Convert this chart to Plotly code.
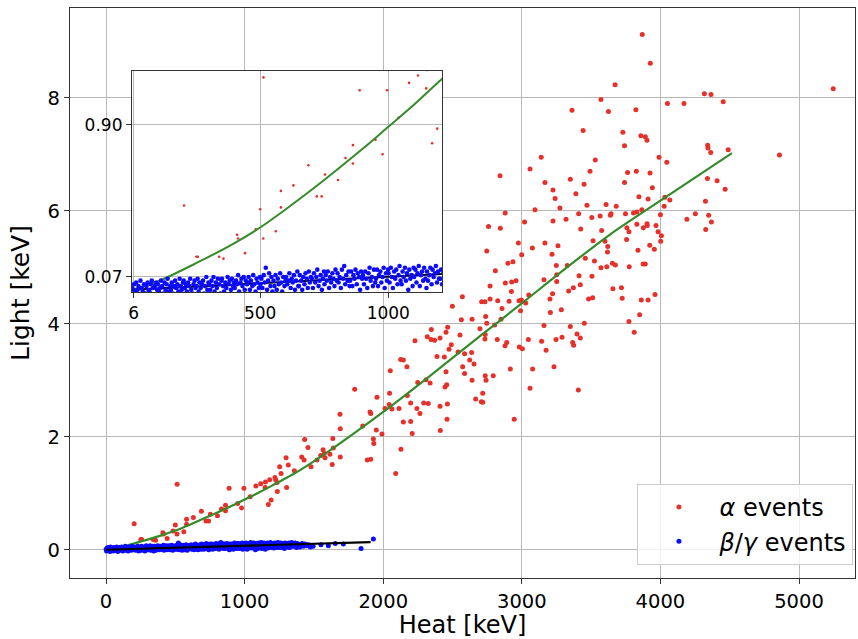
import plotly.graph_objects as go

# ---------------- data ----------------
alpha_heat = [
    203, 251, 257, 340, 357, 410, 414, 441, 483, 500,
    512, 513, 561, 581, 581, 630, 688, 721, 740, 753,
    804, 833, 862, 862, 888, 950, 978, 995, 1040, 1081,
    1116, 1148, 1150, 1171, 1191, 1181,
    1219, 1224, 1234, 1236, 1253, 1263, 1299, 1315, 1303, 1359,
    1412, 1429, 1457, 1479, 1433, 1522, 1566, 1580, 1575, 1549,
    1640, 1616, 1690, 1632, 1885, 1910, 1636, 1688, 1690, 1794,
    1852, 1905, 1910, 1929, 1932, 1950, 1955, 1991, 2013, 2046,
    2043, 2051, 2063, 2090, 2114, 2126, 2145, 2128, 2145, 2171,
    2174, 2198, 2198, 2209, 2229, 2243, 2249, 2265, 2292, 2309,
    2318, 2325, 2338, 2345, 2347, 2371, 2388, 2410, 2410, 2412,
    2441, 2446, 2453, 2453, 2458, 2460, 2463, 2465, 2475, 2491,
    2499, 2540, 2554, 2564, 2571, 2573, 2587, 2587, 2624, 2638,
    2641, 2641, 2655, 2667, 2698,
    2845, 2747, 2975, 2999, 3076, 3167, 3261, 3425, 3514, 3218,
    3249, 3328, 3458, 3524, 2900, 2936, 2809, 2881, 2927, 2958,
    2771, 2925, 3160, 3252, 3252, 3372, 3422, 3338, 3413, 3506,
    3222, 2710, 2734, 2771, 2826, 2908, 2980, 2997, 3050, 3028,
    2857, 2991, 3203, 3285, 3482, 3511, 3206, 2739, 2747, 2850,
    2804, 3160, 3350, 3451, 2736, 2734, 2823, 2891, 2879, 2982,
    3004, 3047, 3143, 3175, 3247, 3290, 3367, 3374, 3398, 3422,
    2917, 3078, 3232, 2736, 2742, 2794, 3059, 3408, 2718, 2708,
    2718, 2945,
    2843, 3059, 3140, 3167, 3225, 3240, 3275, 3095, 3350, 3390,
    3449, 3492, 3470, 3319, 3225, 2880, 2760, 3362, 3442, 3530,
    3505, 3410, 3020,
    3608, 3681, 3565, 3639, 3644, 3748, 3806, 3830, 3866, 4027,
    4000, 4325, 4252, 4191, 4348, 4368, 4327, 3576, 3758, 3773,
    3756, 3830, 3877, 3903, 3905, 3968, 3983, 4007, 4002, 3600,
    3620, 3618, 3838, 3923, 3956, 3571, 3613, 3654, 3675, 3775,
    3875, 3891, 3657, 3719, 3724, 3862, 3911, 3961, 3850, 3773,
    3811,
    3869, 3927, 3673, 3571, 3625, 3823, 4317, 4365, 4051, 4170,
    4453, 5247, 3729, 3741, 3859, 3891, 3903, 3990, 4046, 4341,
    4343, 4363, 4489, 4859, 3763, 3826, 3925, 3741, 3942, 3845,
    3911, 4339, 4409, 4467, 4068, 4032,
]
alpha_light = [
    0.46, 0.18, 0.18, 0.18, 0.17, 0.30, 0.28, 0.20, 0.33, 0.44,
    0.28, 1.16, 0.32, 0.54, 0.45, 0.57, 0.68, 0.51, 0.51, 0.63,
    0.60, 0.72, 0.79, 0.69, 1.09, 0.82, 0.74, 1.09, 0.94, 1.13,
    1.17, 1.10, 1.20, 0.80, 0.88, 1.24,
    1.28, 1.24, 1.19, 1.03, 1.47, 1.35, 1.63, 1.50, 1.10, 1.40,
    1.64, 1.59, 1.81, 1.47, 1.95, 1.59, 1.77, 1.63, 1.71, 1.67,
    1.80, 1.69, 1.64, 1.51, 1.59, 1.60, 1.97, 2.40, 2.14, 2.84,
    2.19, 2.44, 2.41, 1.96, 1.88, 2.12, 2.70, 2.05, 2.50, 2.77,
    2.57, 3.17, 2.49, 1.35, 2.50, 3.37, 3.36, 1.78, 2.26, 3.24,
    2.73, 2.60, 2.27, 2.06, 3.70, 2.50, 2.96, 2.41, 2.60, 3.01,
    3.77, 2.59, 2.95, 3.72, 3.90, 3.71, 3.42, 3.75, 2.54, 2.11,
    3.41, 2.88, 3.85, 3.15, 2.92, 2.31, 2.58, 3.94, 3.55, 3.63,
    4.31, 3.50, 3.80, 4.07, 4.48, 3.24, 3.47, 3.12, 3.36, 3.49,
    4.08, 3.00, 3.29, 2.67, 3.91,
    5.69, 5.29, 5.43, 5.22, 5.34, 5.43, 5.38, 5.68, 5.47, 5.23,
    5.03, 5.03, 5.16, 5.11, 5.07, 5.10, 4.94, 4.72, 4.74, 4.76,
    4.67, 4.57, 4.78, 4.87, 4.75, 4.64, 4.69, 4.58, 4.85, 4.84,
    4.53, 4.39, 4.39, 4.44, 4.41, 4.40, 4.41, 4.42, 4.51, 4.37,
    4.27, 4.23, 4.44, 4.25, 4.44, 4.46, 4.20, 4.13, 4.01, 4.08,
    3.98, 3.97, 3.95, 4.01, 3.81, 3.73, 3.72, 3.67, 3.61, 3.59,
    3.56, 3.72, 3.69, 3.53, 3.72, 3.76, 3.67, 3.62, 3.82, 3.75,
    3.20, 3.20, 3.24, 3.08, 3.00, 3.08, 2.86, 2.83, 2.77, 2.62,
    2.61, 2.31,
    6.62, 6.74, 6.95, 6.50, 6.37, 6.22, 6.05, 6.02, 6.56, 6.30,
    6.47, 6.70, 6.10, 5.85, 5.82, 5.96, 5.72, 7.78, 7.42, 6.90,
    5.88, 5.95, 5.80,
    6.11, 6.08, 5.91, 5.92, 5.95, 5.95, 5.96, 5.98, 6.02, 6.08,
    5.93, 6.17, 5.95, 5.85, 5.92, 5.80, 5.67, 5.65, 5.70, 5.63,
    5.49, 5.76, 5.70, 5.77, 5.74, 5.74, 5.63, 5.56, 5.46, 5.46,
    5.37, 5.27, 5.30, 5.39, 5.32, 4.99, 5.01, 5.07, 5.04, 5.01,
    5.06, 5.06, 4.62, 4.64, 4.45, 4.42, 4.42, 4.52, 4.16, 4.04,
    3.85,
    9.12, 8.61, 8.23, 7.97, 7.76, 7.79, 8.07, 8.06, 7.90, 7.90,
    7.93, 8.16, 7.39, 7.15, 7.33, 7.31, 7.25, 6.95, 6.86, 7.16,
    7.11, 7.03, 7.08, 6.99, 6.68, 6.70, 6.67, 6.50, 6.41, 6.25,
    6.21, 6.57, 6.53, 6.38, 6.19, 6.24,
]

beta_heat = [
    1, 4, 8, 12, 16, 21, 25, 29, 33, 38, 42, 47,
    52, 56, 61, 64, 68, 73, 77, 81, 85, 89, 94, 98,
    101, 105, 110, 113, 118, 122, 127, 131, 135, 139, 144, 148,
    152, 155, 160, 164, 168, 172, 177, 181, 186, 190, 194, 199,
    202, 206, 210, 214, 219, 223, 227, 231, 236, 240, 244, 248,
    251, 256, 260, 263, 268, 273, 277, 281, 285, 290, 294, 298,
    302, 305, 310, 314, 318, 322, 327, 331, 335, 340, 344, 349,
    351, 355, 359, 364, 368, 373, 377, 381, 386, 390, 394, 398,
    401, 406, 410, 414, 418, 423, 427, 431, 436, 440, 444, 449,
    452, 455, 460, 464, 469, 473, 477, 482, 486, 490, 495, 499,
    501, 505, 509, 514, 518, 522, 527, 531, 535, 540, 544, 548,
    552, 556, 560, 565, 569, 573, 578, 582, 586, 590, 595, 599,
    601, 606, 610, 614, 619, 623, 627, 632, 636, 640, 645, 649,
    651, 655, 660, 664, 668, 673, 677, 682, 686, 690, 694, 698,
    702, 706, 710, 715, 719, 723, 728, 732, 736, 741, 745, 749,
    751, 756, 760, 764, 769, 773, 777, 782, 786, 790, 794, 799,
    802, 806, 810, 815, 819, 824, 828, 832, 836, 841, 845, 849,
    851, 855, 860, 864, 868, 872, 877, 881, 886, 890, 894, 898,
    901, 905, 910, 914, 918, 923, 927, 931, 936, 940, 944, 949,
    952, 956, 960, 964, 969, 973, 978, 982, 986, 991, 995, 999,
    1001, 1005, 1010, 1014, 1018, 1023, 1027, 1031, 1036, 1040, 1044, 1048,
    1052, 1056, 1060, 1065, 1069, 1073, 1078, 1082, 1086, 1091, 1095, 1099,
    1101, 1106, 1110, 1114, 1119, 1123, 1127, 1132, 1136, 1140, 1145, 1149,
    1151, 1155, 1160, 1164, 1169, 1173, 1177, 1182, 1186, 1190, 1194, 1198,
    1202, 1206, 1210, 1215, 1219, 1223, 1228, 1232, 1237, 1241, 1245, 1249,
    1251, 1256, 1260, 1264, 1269, 1273, 1278, 1282, 1287, 1291, 1295, 1299,
    1302, 1306, 1311, 1316, 1320, 1325, 1330, 1335, 1340, 1344, 1348,
    1353, 1358, 1364, 1369, 1375, 1381, 1387, 1393, 1398,
    1406, 1415, 1425, 1436, 1448, 1460, 1474, 1494,
    1551, 1604, 1654, 1712, 1840, 1929,
]
beta_light = [
    0.01, -0.02, 0.03, -0.01, 0.04, 0.00, 0.02, -0.03, 0.05, 0.01, -0.01, 0.03,
    -0.02, 0.02, 0.04, 0.00, -0.01, 0.03, 0.05, 0.01, -0.03, 0.02, 0.04, 0.00,
    0.03, -0.01, 0.01, 0.05, 0.02, -0.02, 0.04, 0.00, 0.03, 0.06, -0.01, 0.02,
    0.00, 0.04, -0.02, 0.02, 0.05, 0.01, 0.03, -0.01, 0.06, 0.02, 0.00, 0.04,
    0.05, 0.01, 0.03, -0.01, 0.04, 0.02, 0.06, 0.00, -0.02, 0.03, 0.05, 0.01,
    0.02, 0.06, -0.01, 0.04, 0.01, 0.03, 0.05, -0.02, 0.02, 0.07, 0.00, 0.04,
    0.03, 0.00, 0.05, 0.02, 0.07, -0.01, 0.04, 0.01, 0.06, 0.03, -0.02, 0.05,
    0.06, 0.02, -0.01, 0.04, 0.01, 0.07, 0.03, 0.05, 0.00, 0.06, 0.02, 0.04,
    0.01, 0.05, 0.03, 0.08, -0.01, 0.04, 0.06, 0.02, 0.07, 0.00, 0.05, 0.03,
    0.04, 0.07, 0.00, 0.05, 0.02, 0.08, 0.03, -0.01, 0.06, 0.04, 0.01, 0.07,
    0.03, 0.06, 0.01, 0.08, 0.04, 0.12, 0.00, 0.05, 0.09, 0.02, 0.07, -0.01,
    0.05, 0.02, 0.08, 0.00, 0.06, 0.03, 0.09, 0.04, -0.01, 0.07, 0.02, 0.05,
    0.07, 0.03, 0.05, 0.09, 0.01, 0.06, 0.04, 0.08, 0.00, 0.05, 0.10, 0.02,
    0.02, 0.08, 0.05, 0.00, 0.07, 0.03, 0.09, 0.06, 0.01, 0.10, 0.04, 0.07,
    0.06, 0.01, 0.09, 0.04, 0.07, 0.11, 0.02, 0.05, 0.08, 0.00, 0.06, 0.10,
    0.03, 0.08, 0.05, 0.10, 0.01, 0.07, 0.04, 0.09, 0.06, 0.02, 0.11, 0.05,
    0.09, 0.04, 0.07, 0.01, 0.11, 0.06, 0.13, 0.03, 0.08, 0.05, 0.10, 0.02,
    0.05, 0.10, 0.02, 0.08, 0.06, 0.11, 0.03, 0.09, 0.07, 0.00, 0.10, 0.06,
    0.08, 0.03, 0.10, 0.06, 0.01, 0.09, 0.12, 0.05, 0.07, 0.02, 0.11, 0.04,
    0.06, 0.11, 0.02, 0.08, 0.10, 0.04, 0.07, 0.12, 0.01, 0.09, 0.05, 0.11,
    0.09, 0.04, 0.12, 0.07, 0.01, 0.10, 0.06, 0.11, 0.03, 0.08, 0.13, 0.05,
    0.03, 0.10, 0.07, 0.12, 0.05, 0.09, 0.00, 0.11, 0.06, 0.08, 0.02, 0.12,
    0.07, 0.11, 0.04, 0.09, 0.13, 0.02, 0.08, 0.10, 0.05, 0.12, 0.06, 0.01,
    0.10, 0.05, 0.08, 0.12, 0.03, 0.11, 0.07, 0.09, 0.13, 0.04, 0.10, 0.06,
    0.06, 0.11, 0.03, 0.09, 0.12, 0.07, 0.10, 0.04, 0.08, 0.13, 0.05, 0.10,
    0.09, 0.04, 0.12, 0.07, 0.10, 0.05, 0.11, 0.08, 0.02, 0.12, 0.06, 0.09,
    0.07, 0.11, 0.05, 0.09, 0.12, 0.04, 0.10, 0.08, 0.13, 0.06, 0.09,
    0.10, 0.06, 0.12, 0.08, 0.04, 0.11, 0.07, 0.09, 0.05,
    0.08, 0.11, 0.06, 0.10, 0.07, 0.09, 0.05, 0.06,
    0.09, 0.07, 0.11, 0.10, 0.02, 0.19,
]

# fitted curves
alpha_fit_heat = [0, 100, 250, 400, 500, 600, 750, 900, 1000, 1100,
                  1200, 1300, 1400, 1616, 2000, 2338, 2698, 3004, 3300, 3636,
                  4000, 4516]
alpha_fit_light = [0.0, 0.045, 0.145, 0.255, 0.34, 0.44, 0.60, 0.77, 0.89, 1.01,
                   1.14, 1.27, 1.41, 1.76, 2.44, 3.08, 3.78, 4.37, 4.95, 5.58,
                   6.18, 7.02]
beta_fit_heat = [0, 1909]
beta_fit_light = [0.0, 0.135]

x_ticks = [0, 1000, 2000, 3000, 4000, 5000]
y_ticks = [0, 2, 4, 6, 8]
inset_x_ticks = [6, 500, 1000]
inset_x_text = ["6", "500", "1000"]
inset_y_ticks = [0.07, 0.90]
inset_y_text = ["0.07", "0.90"]

RED = "#e6302a"
BLUE = "#0a0aff"
GREEN = "#358a2a"
FONT = "DejaVu Sans"

fig = go.Figure()

# main plot
fig.add_trace(go.Scatter(x=alpha_heat, y=alpha_light, mode="markers",
                         marker=dict(color=RED, size=5, line=dict(width=0)),
                         name="<i>α</i> events", xaxis="x", yaxis="y"))
fig.add_trace(go.Scatter(x=alpha_fit_heat, y=alpha_fit_light, mode="lines",
                         line=dict(color=GREEN, width=2.2, shape="spline", smoothing=0.8),
                         showlegend=False, xaxis="x", yaxis="y"))
fig.add_trace(go.Scatter(x=beta_heat, y=beta_light, mode="markers",
                         marker=dict(color=BLUE, size=5, line=dict(width=0)),
                         name="<i>β</i>/<i>γ</i> events", xaxis="x", yaxis="y"))
fig.add_trace(go.Scatter(x=beta_fit_heat, y=beta_fit_light, mode="lines",
                         line=dict(color="black", width=2.2),
                         showlegend=False, xaxis="x", yaxis="y"))

# inset
fig.add_trace(go.Scatter(x=alpha_heat, y=alpha_light, mode="markers",
                         marker=dict(color=RED, size=2.6, line=dict(width=0)),
                         showlegend=False, xaxis="x2", yaxis="y2"))
fig.add_trace(go.Scatter(x=alpha_fit_heat, y=alpha_fit_light, mode="lines",
                         line=dict(color=GREEN, width=2, shape="spline", smoothing=0.8),
                         showlegend=False, xaxis="x2", yaxis="y2"))
fig.add_trace(go.Scatter(x=beta_fit_heat, y=beta_fit_light, mode="lines",
                         line=dict(color="black", width=2),
                         showlegend=False, xaxis="x2", yaxis="y2"))
fig.add_trace(go.Scatter(x=beta_heat, y=beta_light, mode="markers",
                         marker=dict(color=BLUE, size=4.6, line=dict(width=0)),
                         showlegend=False, xaxis="x2", yaxis="y2"))

axis_common = dict(showgrid=True, gridcolor="#b8b8b8", gridwidth=1,
                   showline=True, linecolor="#333333", linewidth=1.3, mirror=True,
                   ticks="outside", ticklen=5, tickwidth=1.2, tickcolor="#333333",
                   zeroline=False, color="black")

fig.update_layout(
    width=858, height=639,
    margin=dict(l=70, r=3, t=8, b=61),
    plot_bgcolor="white", paper_bgcolor="white",
    font=dict(family=FONT, color="black"),
    xaxis=dict(domain=[0, 1], range=[-260, 5404], tickvals=x_ticks,
               tickfont=dict(size=19.5, family=FONT),
               title=dict(text="Heat [keV]", font=dict(size=24, family=FONT), standoff=6),
               anchor="y", **axis_common),
    yaxis=dict(domain=[0, 1], range=[-0.5, 9.59], tickvals=y_ticks,
               tickfont=dict(size=19.5, family=FONT),
               title=dict(text="Light [keV]", font=dict(size=25, family=FONT), standoff=10),
               anchor="x", **axis_common),
    xaxis2=dict(domain=[0.079, 0.474], range=[0, 1210], tickvals=inset_x_ticks,
                ticktext=inset_x_text, tickfont=dict(size=17, family=FONT),
                anchor="y2", **axis_common),
    yaxis2=dict(domain=[0.5018, 0.8895], range=[-0.012, 1.195], tickvals=inset_y_ticks,
                ticktext=inset_y_text, tickfont=dict(size=17, family=FONT),
                anchor="x2", **axis_common),
    legend=dict(x=0.998, y=0.023, xanchor="right", yanchor="bottom",
                bgcolor="rgba(255,255,255,0.8)", bordercolor="#cccccc", borderwidth=1,
                font=dict(size=24, family=FONT), itemwidth=71,
                tracegroupgap=2),
    showlegend=True,
)

fig.write_html("out.html")
